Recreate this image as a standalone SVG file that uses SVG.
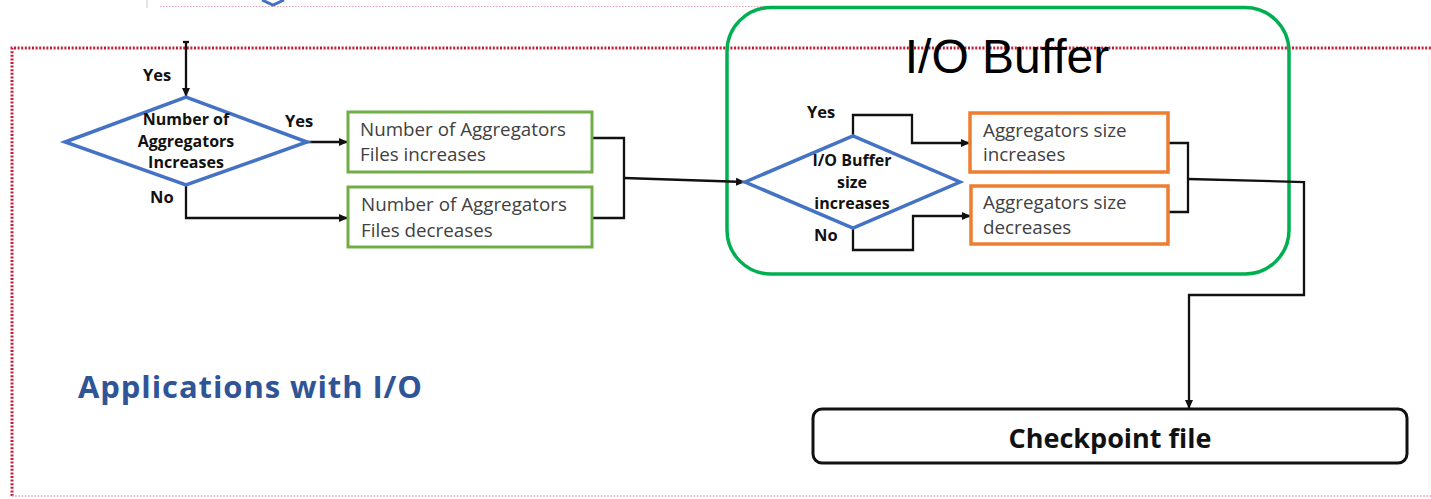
<svg xmlns="http://www.w3.org/2000/svg" width="1431" height="499" viewBox="0 0 1431 499">
  <defs>
    <marker id="arrow" markerUnits="userSpaceOnUse" markerWidth="10" markerHeight="8" refX="9" refY="4" orient="auto">
      <path d="M0,0 L9,4 L0,8 Z" fill="#111"/>
    </marker>
    <style>
      .conn{fill:none;stroke:#111;stroke-width:2.3}
      .dec{fill:#fff;stroke:#4472c4;stroke-width:3.5}
      .gbox{fill:#fff;stroke:#70ad47;stroke-width:3}
      .obox{fill:#fff;stroke:#ed7d31;stroke-width:3.5}
      .lbl{font-family:"Open Sans","Liberation Sans",sans-serif;font-weight:700;font-size:16.5px;fill:#111}
      .dtxt{font-family:"Open Sans","Liberation Sans",sans-serif;font-weight:700;font-size:16px;fill:#111;text-anchor:middle}
      .btxt{font-family:"Open Sans","Liberation Sans",sans-serif;font-size:18.8px;fill:#404040}
    </style>
  </defs>

  <rect width="1431" height="499" fill="#fff"/>

  <!-- strip of the previous section above -->
  <g id="upper-strip">
    <line x1="147" y1="0" x2="147" y2="8" stroke="#c8c8c8" stroke-width="1"/>
    <line x1="160" y1="6.5" x2="1098" y2="6.5" stroke="#e4a4b2" stroke-width="1.2" stroke-dasharray="1.5 1.5"/>
    <polyline points="262,0 273,5 284,0" fill="none" stroke="#4472c4" stroke-width="3"/>
  </g>

  <!-- dotted section frame -->
  <g id="section-frame">
    <path d="M12,496 V48 H1431" fill="none" stroke="#c41e3a" stroke-width="3" stroke-dasharray="2 1.6"/>
    <line x1="12" y1="496" x2="1431" y2="496" stroke="#e89aaa" stroke-width="1.5" stroke-dasharray="1.6 1.6"/>
    <line x1="1429" y1="55" x2="1429" y2="490" stroke="#ececec" stroke-width="1"/>
  </g>

  <g id="section-title">
    <text x="78" y="398" textLength="344" lengthAdjust="spacing" font-family="'Open Sans','Liberation Sans',sans-serif" font-weight="700" font-size="31" fill="#2f5597">Applications with I/O</text>
  </g>

  <!-- I/O buffer group frame -->
  <g id="io-buffer-group">
    <rect x="727" y="7.5" width="562" height="266.5" rx="44" fill="none" stroke="#00b050" stroke-width="3.5"/>
    <text x="1007" y="73" text-anchor="middle" font-family="'Liberation Sans',Arial,sans-serif" font-size="48" fill="#000">I/O Buffer</text>
  </g>

  <!-- connectors -->
  <g id="connectors">
    <path class="conn" d="M183,42 H189"/>
    <path class="conn" d="M186,42 V97" marker-end="url(#arrow)"/>
    <path class="conn" d="M307,142 H348" marker-end="url(#arrow)"/>
    <path class="conn" d="M186,185 V218 H348" marker-end="url(#arrow)"/>
    <path class="conn" d="M592,138 H624 V218 H592"/>
    <path class="conn" d="M624,178 L745,182" marker-end="url(#arrow)"/>
    <path class="conn" d="M853,136 V115 H912 V143 H970" marker-end="url(#arrow)"/>
    <path class="conn" d="M853,228 V250 H913 V216 H971" marker-end="url(#arrow)"/>
    <path class="conn" d="M1168,143 H1188 V212 H1168"/>
    <path class="conn" d="M1188,179 L1304,182 V295 H1189 V409" marker-end="url(#arrow)"/>
    <text class="lbl" x="143" y="81">Yes</text>
    <text class="lbl" x="285" y="127">Yes</text>
    <text class="lbl" x="150" y="203">No</text>
    <text class="lbl" x="807" y="118">Yes</text>
    <text class="lbl" x="814" y="241">No</text>
  </g>

  <g id="aggregators-decision">
    <polygon class="dec" points="65,142 186,97 307,142 186,185"/>
    <text class="dtxt" x="186" y="125">Number of</text>
    <text class="dtxt" x="186" y="147">Aggregators</text>
    <text class="dtxt" x="186" y="168">Increases</text>
  </g>

  <g id="files-increase">
    <rect class="gbox" x="348" y="112" width="244" height="60"/>
    <text class="btxt" x="360" y="136">Number of Aggregators</text>
    <text class="btxt" x="360" y="161">Files increases</text>
  </g>

  <g id="files-decrease">
    <rect class="gbox" x="348" y="187" width="244" height="60"/>
    <text class="btxt" x="361" y="211">Number of Aggregators</text>
    <text class="btxt" x="361" y="237">Files decreases</text>
  </g>

  <g id="buffer-decision">
    <polygon class="dec" points="745,182 853,136 960,182 853,228"/>
    <text class="dtxt" x="852" y="166">I/O Buffer</text>
    <text class="dtxt" x="852" y="188">size</text>
    <text class="dtxt" x="852" y="209">increases</text>
  </g>

  <g id="size-increase">
    <rect class="obox" x="970" y="113" width="198" height="59"/>
    <text class="btxt" x="983" y="137">Aggregators size</text>
    <text class="btxt" x="983" y="161">increases</text>
  </g>

  <g id="size-decrease">
    <rect class="obox" x="971" y="186" width="197" height="58"/>
    <text class="btxt" x="983" y="209">Aggregators size</text>
    <text class="btxt" x="983" y="234">decreases</text>
  </g>

  <g id="checkpoint-file">
    <rect x="813" y="409" width="594" height="54" rx="9" fill="#fff" stroke="#111" stroke-width="3"/>
    <text x="1110" y="448" text-anchor="middle" font-family="'Open Sans','Liberation Sans',sans-serif" font-weight="700" font-size="27" fill="#111">Checkpoint file</text>
  </g>
</svg>
